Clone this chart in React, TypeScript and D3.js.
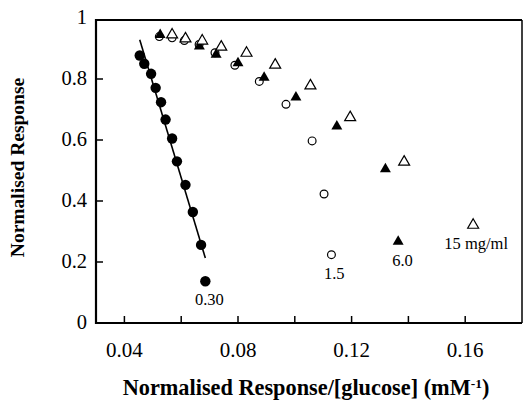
import React from "react";
import * as d3 from "d3";

const W = 523;
const H = 400;

// 0.30 mg/ml (filled circles)
const s030x = [0.0454, 0.047, 0.0494, 0.051, 0.0529, 0.0545, 0.0568, 0.0585, 0.0615, 0.0641, 0.067, 0.0685];
const s030y = [0.877, 0.85, 0.817, 0.771, 0.724, 0.667, 0.605, 0.53, 0.453, 0.364, 0.256, 0.137];
// fit line for 0.30
const fitX = [0.0454, 0.0685];
const fitY = [0.929, 0.213];

// 1.5 mg/ml (open circles)
const s15x = [0.0523, 0.0568, 0.0611, 0.0663, 0.0719, 0.0789, 0.0875, 0.0969, 0.1061, 0.1103, 0.1129];
const s15y = [0.939, 0.935, 0.926, 0.913, 0.886, 0.845, 0.792, 0.717, 0.597, 0.423, 0.224];

// 6.0 mg/ml (filled triangles)
const s60x = [0.0526, 0.0664, 0.0723, 0.08, 0.0892, 0.1004, 0.1148, 0.1319, 0.1364];
const s60y = [0.945, 0.907, 0.88, 0.852, 0.805, 0.74, 0.645, 0.505, 0.267];

// 15 mg/ml (open triangles)
const s150x = [0.0568, 0.0615, 0.0674, 0.0741, 0.083, 0.0931, 0.1055, 0.1195, 0.1385, 0.1628];
const s150y = [0.945, 0.932, 0.925, 0.905, 0.885, 0.846, 0.778, 0.674, 0.528, 0.321];

const xTicks = [0.04, 0.06, 0.08, 0.1, 0.12, 0.14, 0.16];
const xTickLabels = ["0.04", "", "0.08", "", "0.12", "", "0.16"];
const yTicks = [0, 0.2, 0.4, 0.6, 0.8, 1];
const yTickLabels = ["0", "0.2", "0.4", "0.6", "0.8", "1"];

const seriesLabels = ["0.30", "1.5", "6.0", "15 mg/ml"];
const labelAnchorX = [0.0685, 0.1125, 0.1365, 0.1628];
const labelAnchorY = [0.137, 0.224, 0.267, 0.321];

const FONT = '"Liberation Serif", "Times New Roman", Times, "DejaVu Serif", serif';

export default function App() {
  const x = d3.scaleLinear().domain([0.03, 0.18]).range([96, 522]);
  const y = d3.scaleLinear().domain([0, 1]).range([323, 18]);
  const line = d3.line<number>()
    .x((_, i) => x(fitX[i]))
    .y((d) => y(d));
  const tri = d3.symbol().type(d3.symbolTriangle).size(52)();

  return (
    <svg width={W} height={H} style={{ position: "absolute", left: 0, top: 0, background: "#fff", fontFamily: FONT }}>
      {/* frame */}
      <path d={`M${x(0.03)},${y(1) + 2}H${x(0.18)}`} stroke="#000" strokeWidth={2} />
      <path d={`M${x(0.18)},${y(1) + 2}V${y(0)}`} stroke="#000" strokeWidth={1.5} />
      <path d={`M${x(0.03)},${y(1) + 1}V${y(0)}H${x(0.18)}`} stroke="#000" strokeWidth={2.2} fill="none" />
      {/* x ticks */}
      {xTicks.map((t, i) => (
        <g key={"xt" + i}>
          <line x1={x(t)} x2={x(t)} y1={y(0)} y2={y(0) - 7} stroke="#000" strokeWidth={1.5} />
          {xTickLabels[i] && (
            <text x={x(t)} y={357} textAnchor="middle" fontSize={21}>{xTickLabels[i]}</text>
          )}
        </g>
      ))}
      {/* y ticks */}
      {yTicks.map((t, i) => (
        <g key={"yt" + i}>
          {t > 0 && t < 1 && (
            <line x1={x(0.03)} x2={x(0.03) + 7} y1={y(t)} y2={y(t)} stroke="#000" strokeWidth={1.5} />
          )}
          <text x={87} y={y(t) + 6} textAnchor="end" fontSize={20.5}>{yTickLabels[i]}</text>
        </g>
      ))}
      {/* fit line */}
      <path d={line(fitY) || ""} stroke="#000" strokeWidth={1.6} fill="none" />
      {/* 0.30 */}
      {s030x.map((v, i) => (
        <circle key={"a" + i} cx={x(v)} cy={y(s030y[i])} r={5.2} fill="#000" />
      ))}
      {/* 1.5 */}
      {s15x.map((v, i) => (
        <circle key={"b" + i} cx={x(v)} cy={y(s15y[i])} r={3.9} fill="#fff" stroke="#000" strokeWidth={1.2} />
      ))}
      {/* 6.0 */}
      {s60x.map((v, i) => (
        <path key={"c" + i} d={tri || ""} transform={`translate(${x(v)},${y(s60y[i])})`} fill="#000" />
      ))}
      {/* 15 */}
      {s150x.map((v, i) => (
        <path key={"d" + i} d={tri || ""} transform={`translate(${x(v)},${y(s150y[i])})`} fill="#fff" stroke="#000" strokeWidth={1.2} />
      ))}
      {/* series labels */}
      {seriesLabels.map((s, i) => (
        <text key={"l" + i} x={x(labelAnchorX[i]) + (i === 3 ? 3 : 4)} y={y(labelAnchorY[i]) + 24} textAnchor="middle" fontSize={16.5}>{s}</text>
      ))}
      {/* axis titles */}
      <text x={306} y={395} textAnchor="middle" fontSize={22.3} fontWeight="bold">
        Normalised Response/[glucose] (mM<tspan dy={-7} fontSize={13.5}>-1</tspan><tspan dy={7}>)</tspan>
      </text>
      <text transform={`translate(24,167.5) rotate(-90)`} textAnchor="middle" fontSize={19.5} fontWeight="bold">
        Normalised Response
      </text>
    </svg>
  );
}
